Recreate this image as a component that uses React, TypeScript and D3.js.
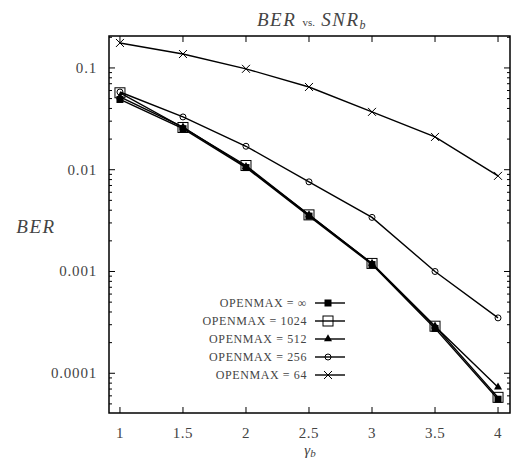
import React from "react";
import * as d3 from "d3";

const xs = [1, 1.5, 2, 2.5, 3, 3.5, 4];
const berInf = [0.049, 0.0253, 0.0105, 0.0035, 0.00117, 0.000276, 0.0000556];
const ber1024 = [0.057, 0.026, 0.011, 0.0036, 0.0012, 0.00029, 0.000058];
const ber512 = [0.052, 0.0262, 0.0107, 0.0036, 0.0012, 0.00029, 0.000073];
const ber256 = [0.058, 0.033, 0.017, 0.0076, 0.0034, 0.001, 0.00035];
const ber64 = [0.176, 0.137, 0.098, 0.065, 0.037, 0.021, 0.0087];
const xTicks = [1, 1.5, 2, 2.5, 3, 3.5, 4];
const yTicks = [0.1, 0.01, 0.001, 0.0001];
const yTickLabels = ["0.1", "0.01", "0.001", "0.0001"];
const legendLabels = ["OPENMAX = \u221E", "OPENMAX = 1024", "OPENMAX = 512", "OPENMAX = 256", "OPENMAX = 64"];

const W = 513, H = 459;
const L = 109, R = 510, T = 36, B = 413;
const font = "'Liberation Serif', 'DejaVu Serif', serif";
const txt = "#444";

function Marker({ kind, x, y }: { kind: string; x: number; y: number }) {
  if (kind === "fsq") return <rect x={x - 3.5} y={y - 3.5} width={7} height={7} fill="#000" />;
  if (kind === "osq") return <rect x={x - 5} y={y - 5} width={10} height={10} fill="none" stroke="#000" strokeWidth={1} />;
  if (kind === "star") {
    const p = d3.symbol(d3.symbolTriangle, 28)()!;
    return <path d={p} transform={`translate(${x},${y})`} fill="#000" />;
  }
  if (kind === "circ") return <circle cx={x} cy={y} r={3} fill="none" stroke="#000" strokeWidth={1} />;
  return (
    <g stroke="#000" strokeWidth={1}>
      <line x1={x - 4} y1={y - 4} x2={x + 4} y2={y + 4} />
      <line x1={x - 4} y1={y + 4} x2={x + 4} y2={y - 4} />
    </g>
  );
}

export default function App() {
  const x = d3.scaleLinear().domain([0.913, 4.095]).range([L, R]);
  const y = d3.scaleLog().domain([4.07e-5, 0.206]).range([B, T]);
  const series = [
    { v: berInf, m: "fsq" },
    { v: ber1024, m: "osq" },
    { v: ber512, m: "star" },
    { v: ber256, m: "circ" },
    { v: ber64, m: "x" },
  ];
  const line = d3.line<number>().x((_, i) => x(xs[i])).y((d) => y(d));
  const minor: number[] = [];
  for (let e = -5; e <= -1; e++) {
    for (let k = 2; k <= 9; k++) {
      const v = k * Math.pow(10, e);
      if (v >= 4.07e-5 && v <= 0.206) minor.push(v);
    }
  }
  return (
    <svg width={W} height={H} style={{ position: "absolute", left: 0, top: 0 }} fontFamily={font}>
      <rect width={W} height={H} fill="#fff" />
      <text x={312} y={26} textAnchor="middle" fontSize={19} fontStyle="italic" fill={txt} letterSpacing={1.5}>
        BER <tspan fontStyle="normal" fontSize={11} letterSpacing={0}>vs.</tspan> SNR<tspan fontSize={12} dy={3}>b</tspan>
      </text>
      {xTicks.map((t) => (
        <g key={t}>
          <line x1={x(t)} x2={x(t)} y1={B} y2={B - 6} stroke="#000" />
          <line x1={x(t)} x2={x(t)} y1={T} y2={T + 6} stroke="#000" />
          <text x={x(t)} y={438} textAnchor="middle" fontSize={15} fill={txt} letterSpacing={0.5}>{t}</text>
        </g>
      ))}
      {yTicks.map((t, i) => (
        <g key={t}>
          <line x1={L} x2={L + 6} y1={y(t)} y2={y(t)} stroke="#000" />
          <line x1={R} x2={R - 6} y1={y(t)} y2={y(t)} stroke="#000" />
          <text x={97} y={y(t) + 5} textAnchor="end" fontSize={15} fill={txt} letterSpacing={0.8}>{yTickLabels[i]}</text>
        </g>
      ))}
      {minor.map((t) => (
        <g key={t}>
          <line x1={L} x2={L + 3} y1={y(t)} y2={y(t)} stroke="#000" />
          <line x1={R} x2={R - 3} y1={y(t)} y2={y(t)} stroke="#000" />
        </g>
      ))}
      <text x={36} y={233} textAnchor="middle" fontSize={19} fontStyle="italic" fill={txt} letterSpacing={1.5}>BER</text>
      <text x={310} y={455} textAnchor="middle" fontSize={15} fontStyle="italic" fill={txt}>
        γ<tspan fontSize={11} dy={2}>b</tspan>
      </text>
      {series.map((s, i) => (
        <g key={i}>
          <path d={line(s.v)!} fill="none" stroke="#000" strokeWidth={1.4} />
          {s.v.map((d, j) => <Marker key={j} kind={s.m} x={x(xs[j])} y={y(d)} />)}
        </g>
      ))}
      {series.map((s, i) => {
        const ly = 303 + i * 18;
        return (
          <g key={"l" + i}>
            <text x={307} y={ly + 4} textAnchor="end" fontSize={12} fill={txt} letterSpacing={0.6}>{legendLabels[i]}</text>
            <line x1={315} x2={345} y1={ly} y2={ly} stroke="#000" strokeWidth={1.4} />
            <Marker kind={s.m} x={328} y={ly} />
          </g>
        );
      })}
      <rect x={L} y={T} width={R - L} height={B - T} fill="none" stroke="#000" strokeWidth={1.5} />
    </svg>
  );
}
